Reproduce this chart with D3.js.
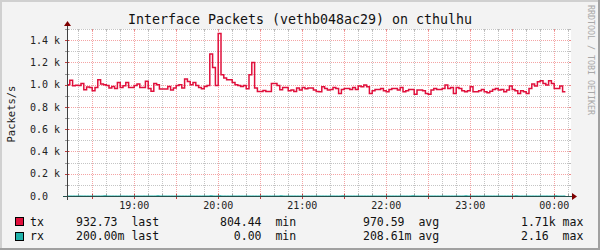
<!DOCTYPE html>
<html><head><meta charset="utf-8">
<script src="https://cdn.jsdelivr.net/npm/d3@7"></script>
<style>
body{margin:0;background:#f3f3f3}
svg{display:block}
text{font-family:"DejaVu Sans Mono",monospace;white-space:pre}
</style>
</head><body>
<svg id="chart" width="600" height="250"></svg>
<script>
// ---------- data ----------
const title = "Interface Packets (vethb048ac29) on cthulhu";
const yAxisLabel = "Packets/s";
const watermark = "RRDTOOL / TOBI OETIKER";
const startTime = new Date(2024, 0, 1, 18, 12);
const endTime = new Date(2024, 0, 2, 0, 12);
const stepMinutes = 2;
const yMax = 1500;
const yTickValues = [0, 200, 400, 600, 800, 1000, 1200, 1400];
const yTickLabels = ["0.0", "0.2 k", "0.4 k", "0.6 k", "0.8 k", "1.0 k", "1.2 k", "1.4 k"];
const seriesNames = ["tx", "rx"];
const seriesColors = ["#e0103c", "#20b2aa"];
// packets per second, one value every 2 minutes
const txValues = [
 1000,1040,990,995,993,1011,955,980,975,945,
 975,1045,1005,1000,993,969,984,965,1020,975,
 990,1020,975,975,993,1005,975,975,1030,965,
 940,1010,999,960,960,960,984,951,969,993,
 999,969,1050,1029,999,
 1020,993,975,963,984,993,1275,1155,993,1460,
 1090,1060,1044,1044,1020,999,993,984,993,963,
 1090,1200,969,939,939,948,939,939,1011,1011,
 993,955,975,975,945,951,939,969,951,975,
 963,969,969,951,939,
 936,981,966,951,957,975,966,921,957,966,
 966,957,975,957,987,981,996,981,921,945,
 957,957,966,945,936,957,966,966,951,975,
 936,945,957,957,915,951,951,945,921,915,
 951,966,957,957,966,996,
 966,975,921,975,966,945,936,945,981,936,
 936,945,957,936,927,940,957,966,951,957,
 936,951,987,957,945,921,945,936,921,966,
 1005,987,1026,1035,1011,996,1035,1011,966,966,
 987,936
];
const rxValues = [
 0,0,0,0,0.2,0,0,0,0,0,
 0,0,0,2,0,0,0,0,0,0,
 0,0,0,0,0,0,0,0.2,0,0,
 0,0,2,0,0,0,0,0,0,0,
 0,0,0,0,0,
 0,0,0,0,0,0,2.16,0,0,2,
 0,0,0,0,0,0,0.2,0,0,0,
 0,0,0,0,0,0,0,0,0,0,
 0,2,0,0,0,0,0,0,0,0,
 0,0,0,0,0,
 0,0,0,0,0,0,0,0,2,0,
 0,0,0,0,0,0,0,0,0,0,
 0,0,0.2,0,0,0,0,0,0,0,
 0,0,0,2,0,0,0,0,0,0,
 0,0,0,0,0,0,
 0,0,0,0,0,0,2,0,0,0,
 0,0,0,0,0,0,0,0,0,0,
 0,0,0,0,2,0,0,0,0,0,
 0,0,0,0,0,0.2,0,0,2,0,
 0,0.2
];
const legendLast = ["932.73  last", "200.00m last"];
const legendMin  = ["804.44  min",  "  0.00  min"];
const legendAvg  = ["970.59  avg",  "208.61m avg"];
const legendMax  = ["1.71k max",    "2.16  max"];

// ---------- drawing ----------
const svg = d3.select("#chart");
const L = 67, R = 571, B = 196, T = B - 167;
const x = d3.scaleTime().domain([startTime, endTime]).range([L, R]);
const y = d3.scaleLinear().domain([0, yMax]).range([B, B - 167]);

// background with shading border
svg.append("rect").attr("x",0).attr("y",0).attr("width",600).attr("height",250).attr("fill","#f3f3f3");
svg.append("rect").attr("x",0).attr("y",0).attr("width",600).attr("height",2).attr("fill","#d0d0d0");
svg.append("rect").attr("x",0).attr("y",0).attr("width",2).attr("height",250).attr("fill","#d0d0d0");
svg.append("rect").attr("x",598).attr("y",0).attr("width",2).attr("height",250).attr("fill","#a0a0a0");
svg.append("rect").attr("x",0).attr("y",248).attr("width",600).attr("height",2).attr("fill","#a0a0a0");

// canvas
svg.append("rect").attr("x",L).attr("y",T).attr("width",R-L).attr("height",B-T).attr("fill","#ffffff");

const grid = svg.append("g");
const minorCol = "rgba(140,140,140,0.5)", majorCol = "rgba(235,90,90,0.55)";
// vertical grid
const minorT = d3.timeMinute.every(10).range(startTime, endTime);
minorT.forEach(t => {
  const major = t.getMinutes() % 30 === 0;
  const col = major ? majorCol : minorCol;
  const xx = Math.round(x(t)) + 0.5;
  grid.append("line").attr("x1",xx).attr("x2",xx).attr("y1",T).attr("y2",B)
    .attr("stroke",col).attr("stroke-dasharray","1,1");
  grid.append("line").attr("x1",xx).attr("x2",xx).attr("y1",B-2).attr("y2",B+ (major?3:0))
    .attr("stroke", major ? "#c04040" : "#999");
  grid.append("line").attr("x1",xx).attr("x2",xx).attr("y1",T).attr("y2",T+2)
    .attr("stroke", major ? "#e88" : "#bbb");
});
// horizontal grid
d3.range(100, yMax + 1, 100).forEach(v => {
  const major = v % 200 === 0;
  const col = major ? majorCol : minorCol;
  const yy = Math.round(y(v)) + 0.5;
  grid.append("line").attr("x1",L).attr("x2",R).attr("y1",yy).attr("y2",yy)
    .attr("stroke",col).attr("stroke-dasharray","1,1");
  grid.append("line").attr("x1",L-2).attr("x2",L+2).attr("y1",yy).attr("y2",yy)
    .attr("stroke", major ? "#c04040" : "#999");
  grid.append("line").attr("x1",R-2).attr("x2",R).attr("y1",yy).attr("y2",yy)
    .attr("stroke", major ? "#e88" : "#bbb");
});

// series
const times = txValues.map((d,i) => new Date(startTime.getTime() + i*stepMinutes*60000));
const endT = new Date(startTime.getTime() + txValues.length*stepMinutes*60000);
function series(vals){
  const pts = vals.map((v,i)=>[times[i], v]);
  pts.push([endT, vals[vals.length-1]]);
  return pts;
}
const line = d3.line().x(d=>x(d[0])).y(d=>y(d[1])).curve(d3.curveStepAfter);
svg.append("path").attr("d", line(series(rxValues))).attr("fill","none")
  .attr("stroke", seriesColors[1]).attr("stroke-width",1);
svg.append("path").attr("d", line(series(txValues))).attr("fill","none")
  .attr("stroke", seriesColors[0]).attr("stroke-width",1.5);

// axes
svg.append("line").attr("x1",L-4).attr("x2",R+2).attr("y1",B+0.5).attr("y2",B+0.5)
  .attr("stroke","#24504c").attr("stroke-width",1);
svg.append("line").attr("x1",L+0.5).attr("x2",L+0.5).attr("y1",B+4).attr("y2",T-3)
  .attr("stroke","#404040").attr("stroke-width",1);
svg.append("path").attr("d",`M${L-3},${T-3}L${L+0.5},${T-8}L${L+4},${T-3}Z`).attr("fill","#7f0000");
svg.append("path").attr("d",`M${R+1},${B-3}L${R+6},${B+0.5}L${R+1},${B+4}Z`).attr("fill","#7f0000");

// y tick labels
yTickValues.forEach((v,i)=>{
  svg.append("text").attr("x",30).attr("y",y(v)+3.6).attr("font-size","10px").attr("fill","#222")
    .text(yTickLabels[i]);
});
// x tick labels
d3.timeHour.every(1).range(startTime, endTime).forEach(t=>{
  svg.append("text").attr("x",x(t)).attr("y",209).attr("text-anchor","middle")
    .attr("font-size","10px").attr("fill","#222").text(d3.timeFormat("%H:%M")(t));
});

// title
svg.append("text").attr("x",300).attr("y",24).attr("text-anchor","middle")
  .attr("font-size","13.3px").attr("fill","#111").text(title);
// y label
svg.append("text").attr("transform","translate(15,114) rotate(-90)").attr("text-anchor","middle")
  .attr("font-size","10.5px").attr("fill","#222").text(yAxisLabel);
// watermark
svg.append("text").attr("transform","translate(588,5) rotate(90)").attr("text-anchor","start")
  .attr("font-size","8.3px").attr("fill","#a8a8a8").text(watermark);

// legend
seriesNames.forEach((n,i)=>{
  const by = 225.5 + i*14.5;
  svg.append("rect").attr("x",15.5).attr("y",217.5 + i*15).attr("width",8).attr("height",8)
    .attr("fill",seriesColors[i]).attr("stroke","#000");
  const fs = "11.5px";
  svg.append("text").attr("x",30).attr("y",by).attr("font-size",fs).attr("fill","#111").text(n);
  svg.append("text").attr("x",76).attr("y",by).attr("font-size",fs).attr("fill","#111").text(legendLast[i]);
  svg.append("text").attr("x",220).attr("y",by).attr("font-size",fs).attr("fill","#111").text(legendMin[i]);
  svg.append("text").attr("x",363).attr("y",by).attr("font-size",fs).attr("fill","#111").text(legendAvg[i]);
  svg.append("text").attr("x",521).attr("y",by).attr("font-size",fs).attr("fill","#111").text(legendMax[i]);
});
</script>
</body></html>
